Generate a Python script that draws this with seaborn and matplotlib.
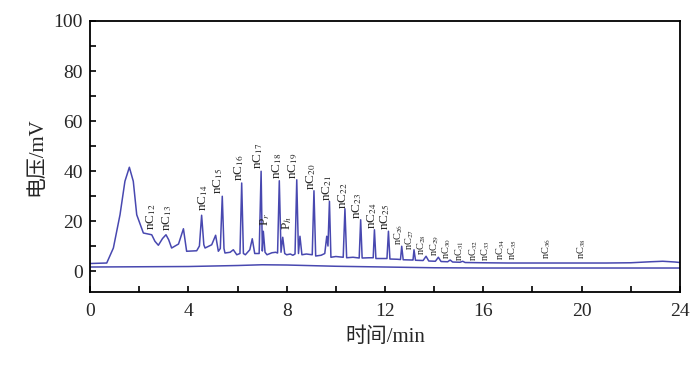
import numpy as np
import pandas as pd
import matplotlib
matplotlib.use('Agg')
import matplotlib.pyplot as plt
import seaborn as sns
from matplotlib.ticker import MultipleLocator

# sample trace (time in min, signal in mV)
sample_time = [0.0, 0.68, 0.95, 1.22, 1.42, 1.60, 1.76, 1.90, 2.17, 2.51, 2.64, 2.78, 2.95, 3.09, 3.20,
               3.32, 3.60, 3.80, 3.93, 4.34, 4.45, 4.54, 4.63, 4.68, 4.95, 5.11, 5.22, 5.30, 5.38, 5.45,
               5.49, 5.70, 5.83, 5.97, 6.10, 6.17, 6.24, 6.32, 6.50, 6.60, 6.70, 6.88, 6.96, 7.01, 7.05,
               7.12, 7.20, 7.40, 7.55, 7.63, 7.70, 7.77, 7.84, 7.92, 8.00, 8.15, 8.25, 8.34, 8.41, 8.48,
               8.54, 8.62, 8.80, 9.04, 9.11, 9.18, 9.40, 9.55, 9.63, 9.68, 9.74, 9.80, 10.00, 10.30, 10.37,
               10.44, 10.70, 10.95, 11.01, 11.07, 11.35, 11.52, 11.57, 11.63, 11.90, 12.08, 12.14, 12.20, 12.50, 12.63,
               12.68, 12.74, 13.10, 13.14, 13.18, 13.24, 13.55, 13.67, 13.78, 14.05, 14.17, 14.28, 14.55, 14.65, 14.75,
               15.05, 15.16, 15.26, 16.0, 17.0, 18.0, 19.0, 20.0, 21.0, 22.0, 22.8, 23.3, 23.8, 24.0]
sample_mv = [3.0, 3.2, 9.2, 22.5, 35.9, 41.5, 35.9, 22.5, 15.2, 14.5, 11.9, 10.3, 13.0, 14.5, 12.5,
             9.2, 10.8, 16.9, 7.9, 8.1, 10.0, 22.3, 10.5, 9.2, 10.5, 14.3, 7.9, 9.0, 29.9, 9.0,
             7.2, 7.5, 8.5, 6.5, 7.0, 35.2, 7.0, 6.5, 8.5, 12.9, 7.0, 7.0, 39.9, 8.0, 15.9,
             7.5, 6.5, 7.3, 7.5, 7.2, 36.1, 7.5, 13.5, 7.0, 6.5, 6.8, 6.3, 6.8, 36.5, 7.0,
             13.9, 6.5, 6.8, 6.5, 32.1, 6.0, 6.3, 7.0, 13.9, 10.0, 27.9, 5.5, 5.8, 5.5, 24.9,
             5.3, 5.5, 5.2, 20.5, 5.2, 5.3, 5.3, 16.5, 5.0, 5.0, 5.0, 15.9, 4.8, 4.7, 4.6,
             9.9, 4.5, 4.4, 4.4, 8.5, 4.3, 4.2, 5.9, 4.0, 3.9, 5.5, 3.8, 3.7, 4.4, 3.6,
             3.5, 3.9, 3.4, 3.3, 3.2, 3.2, 3.2, 3.2, 3.2, 3.3, 3.7, 3.9, 3.6, 3.4]

# blank run trace
blank_time = [0, 2, 4, 6, 7, 8, 10, 12, 14, 16, 18, 20, 22, 24]
blank_mv = [1.6, 1.7, 1.8, 2.2, 2.5, 2.4, 1.9, 1.6, 1.3, 1.2, 1.2, 1.2, 1.2, 1.2]

# peak labels: carbon number (or pristane/phytane), label position
peak_names = ['12', '13', '14', '15', '16', '17', 'Pr', '18', 'Ph', '19', '20', '21', '22', '23', '24',
              '25', '26', '27', '28', '29', '30', '31', '32', '33', '34', '35', '36', '38']
label_time = [2.5, 3.15, 4.6, 5.22, 6.05, 6.85, 7.12, 7.62, 8.0, 8.27, 9.0, 9.63, 10.3, 10.85, 11.46,
              12.0, 12.54, 13.0, 13.5, 14.03, 14.52, 15.05, 15.6, 16.1, 16.7, 17.2, 18.6, 20.0]
label_mv = [16.5, 16, 24, 31, 36, 41, 18, 37, 16.5, 37, 32.5, 28, 25, 21, 17,
            16.5, 10.5, 8.5, 6.5, 6, 5, 4, 4, 4, 4.5, 4.5, 5, 5]

sns.set_style('ticks')
plt.rcParams['font.family'] = ['Liberation Serif', 'Noto Sans CJK SC']
plt.rcParams['mathtext.fontset'] = 'stix'

sample = pd.DataFrame({'t': sample_time, 'mv': sample_mv})
blank = pd.DataFrame({'t': blank_time, 'mv': blank_mv})

fig, ax = plt.subplots(figsize=(7, 3.71), dpi=100)
fig.subplots_adjust(left=0.1286, right=0.9714, bottom=0.2129, top=0.9434)

line_color = '#4848b0'
sns.lineplot(data=sample, x='t', y='mv', ax=ax, color=line_color, linewidth=1.1, estimator=None)
sns.lineplot(data=blank, x='t', y='mv', ax=ax, color=line_color, linewidth=1.1, estimator=None)

for name, t, v in zip(peak_names, label_time, label_mv):
    if name in ('Pr', 'Ph'):
        txt = 'P$_{' + name[1] + '}$'
    else:
        txt = 'nC$_{' + name + '}$'
    if name.isdigit() and int(name) >= 32:
        fs = 7.5
    elif name.isdigit() and int(name) >= 26:
        fs = 7.5
    else:
        fs = 9.5
    ax.text(t, v, txt, rotation=90, ha='center', va='bottom', fontsize=fs)

ax.set_xlim(0, 24)
ax.set_ylim(-8.4, 100)
ax.xaxis.set_major_locator(MultipleLocator(4))
ax.xaxis.set_minor_locator(MultipleLocator(2))
ax.yaxis.set_major_locator(MultipleLocator(20))
ax.yaxis.set_minor_locator(MultipleLocator(10))
ax.tick_params(which='both', direction='in', length=4.5, width=1.2, labelsize=14, color='black')
ax.tick_params(which='minor', top=False, right=False)
ax.tick_params(axis='x', which='major', pad=8)
ax.tick_params(axis='y', which='major', pad=5)
for sp in ax.spines.values():
    sp.set_linewidth(1.3)
    sp.set_color('black')

ax.set_xlabel('时间/min', fontsize=15, labelpad=5)
ax.set_ylabel('电压/mV', fontsize=15, labelpad=5)

plt.savefig('out.png', dpi=100)
